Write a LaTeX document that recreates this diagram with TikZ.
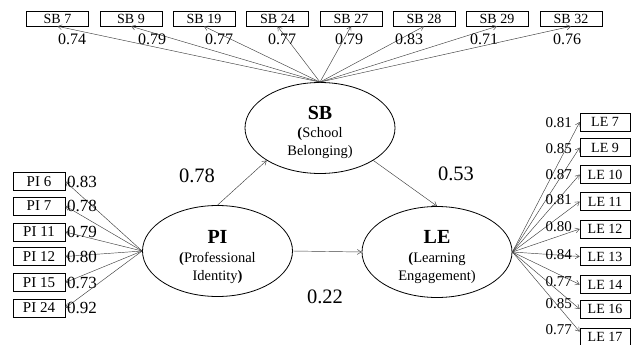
\documentclass[tikz,border=0pt]{standalone}
\usepackage{fontspec}
\setmainfont{Liberation Serif}
\usetikzlibrary{shapes.geometric,arrows.meta}
\begin{document}
\begin{tikzpicture}[x=1pt,y=-1pt,
  lat/.style={draw, ellipse, line width=0.8pt, minimum width=150pt, minimum height=91pt, inner sep=0pt},
  lattext/.style={align=center, inner sep=0pt, font=\fontsize{14.5}{17.5}\selectfont},
  sbbox/.style={draw, line width=0.6pt, minimum width=62pt, minimum height=15pt, inner sep=0pt, font=\fontsize{14}{14}\selectfont},
  pibox/.style={sbbox, minimum width=52pt, minimum height=18pt, font=\fontsize{15}{15}\selectfont},
  lebox/.style={sbbox, minimum width=50pt, minimum height=18pt},
  ld/.style={draw=black!75, line width=0.45pt, -{Straight Barb[length=4pt,width=5pt]}},
  coef/.style={font=\fontsize{20.5}{20.5}\selectfont, inner sep=0pt},
  lab/.style={font=\fontsize{16}{16}\selectfont, inner sep=0pt},
]
\useasboundingbox (0,0) rectangle (634,345);

% latent variables
\node[lat] (SB) at (320,128) {};
\node[lat] (PI) at (217.5,251) {};
\node[lat] (LE) at (437,252) {};
\node[lattext] (SBt) at (320,132) {{\fontsize{20}{20}\selectfont\bfseries SB}\\[1pt]{\bfseries(}School\\Belonging)};
\node[lattext] (PIt) at (217.5,257) {{\fontsize{20}{20}\selectfont\bfseries PI}\\[2pt]{\bfseries(}Professional\\Identity{\bfseries)}};
\node[lattext] (LEt) at (437,257) {{\fontsize{20}{20}\selectfont\bfseries LE}\\[2pt]{\bfseries(}Learning\\Engagement)};

% structural paths
\draw[ld] (PI.north) -- (SB.south west);
\draw[ld] (SB.south east) -- (LE.north);
\draw[ld] (PI.east) -- (LE.west);
\node[coef] (c1) at (197,176) {0.78};
\node[coef] (c2) at (456,174) {0.53};
\node[coef] (c3) at (325,297) {0.22};

% SB indicators
\foreach \n/\x/\lx/\v in {7/57.5/72/0.74, 9/131/152/0.79, 19/204/219/0.77, 24/277.5/282/0.77, 27/351/349/0.79, 28/424/409/0.83, 29/497/484/0.71, 32/571/567/0.76} {
  \node[sbbox] (SB\n) at (\x,18.5) {SB \n};
  \draw[ld] (SB.north) -- (SB\n.south);
  \node[lab] (SBl\n) at (\lx,39) {\v};
}

% PI indicators
\foreach \n/\y/\v in {6/181.5/0.83, 7/206/0.78, 11/232/0.79, 12/256.5/0.80, 15/282.5/0.73, 24/308/0.92} {
  \node[pibox] (PI\n) at (39,\y) {PI \n};
  \draw[ld] (PI.west) -- (PI\n.east);
  \node[lab, anchor=west, font=\fontsize{17}{17}\selectfont] (PIl\n) at ([xshift=1.5pt]PI\n.east) {\v};
}

% LE indicators
\foreach \n/\y/\ly/\v in {7/122/123/0.81, 9/147.5/149/0.85, 10/174.5/175/0.87, 11/201.5/200/0.81, 12/229/227/0.80, 13/256.5/255/0.84, 14/284.5/282/0.77, 16/309/304/0.85} {
  \node[lebox] (LE\n) at (605,\y) {LE \n};
  \draw[ld] (LE.east) -- (LE\n.west);
  \node[lab, anchor=east, font=\fontsize{15}{15}\selectfont] (LEl\n) at (572,\ly) {\v};
}
\node[lebox] (LE17) at (605,337) {LE 17};
\draw[ld] (LE.east) -- ([yshift=-4pt]LE17.north west);
\node[lab, anchor=east, font=\fontsize{15}{15}\selectfont] (LEl17) at (572,330) {0.77};
\end{tikzpicture}
\end{document}
